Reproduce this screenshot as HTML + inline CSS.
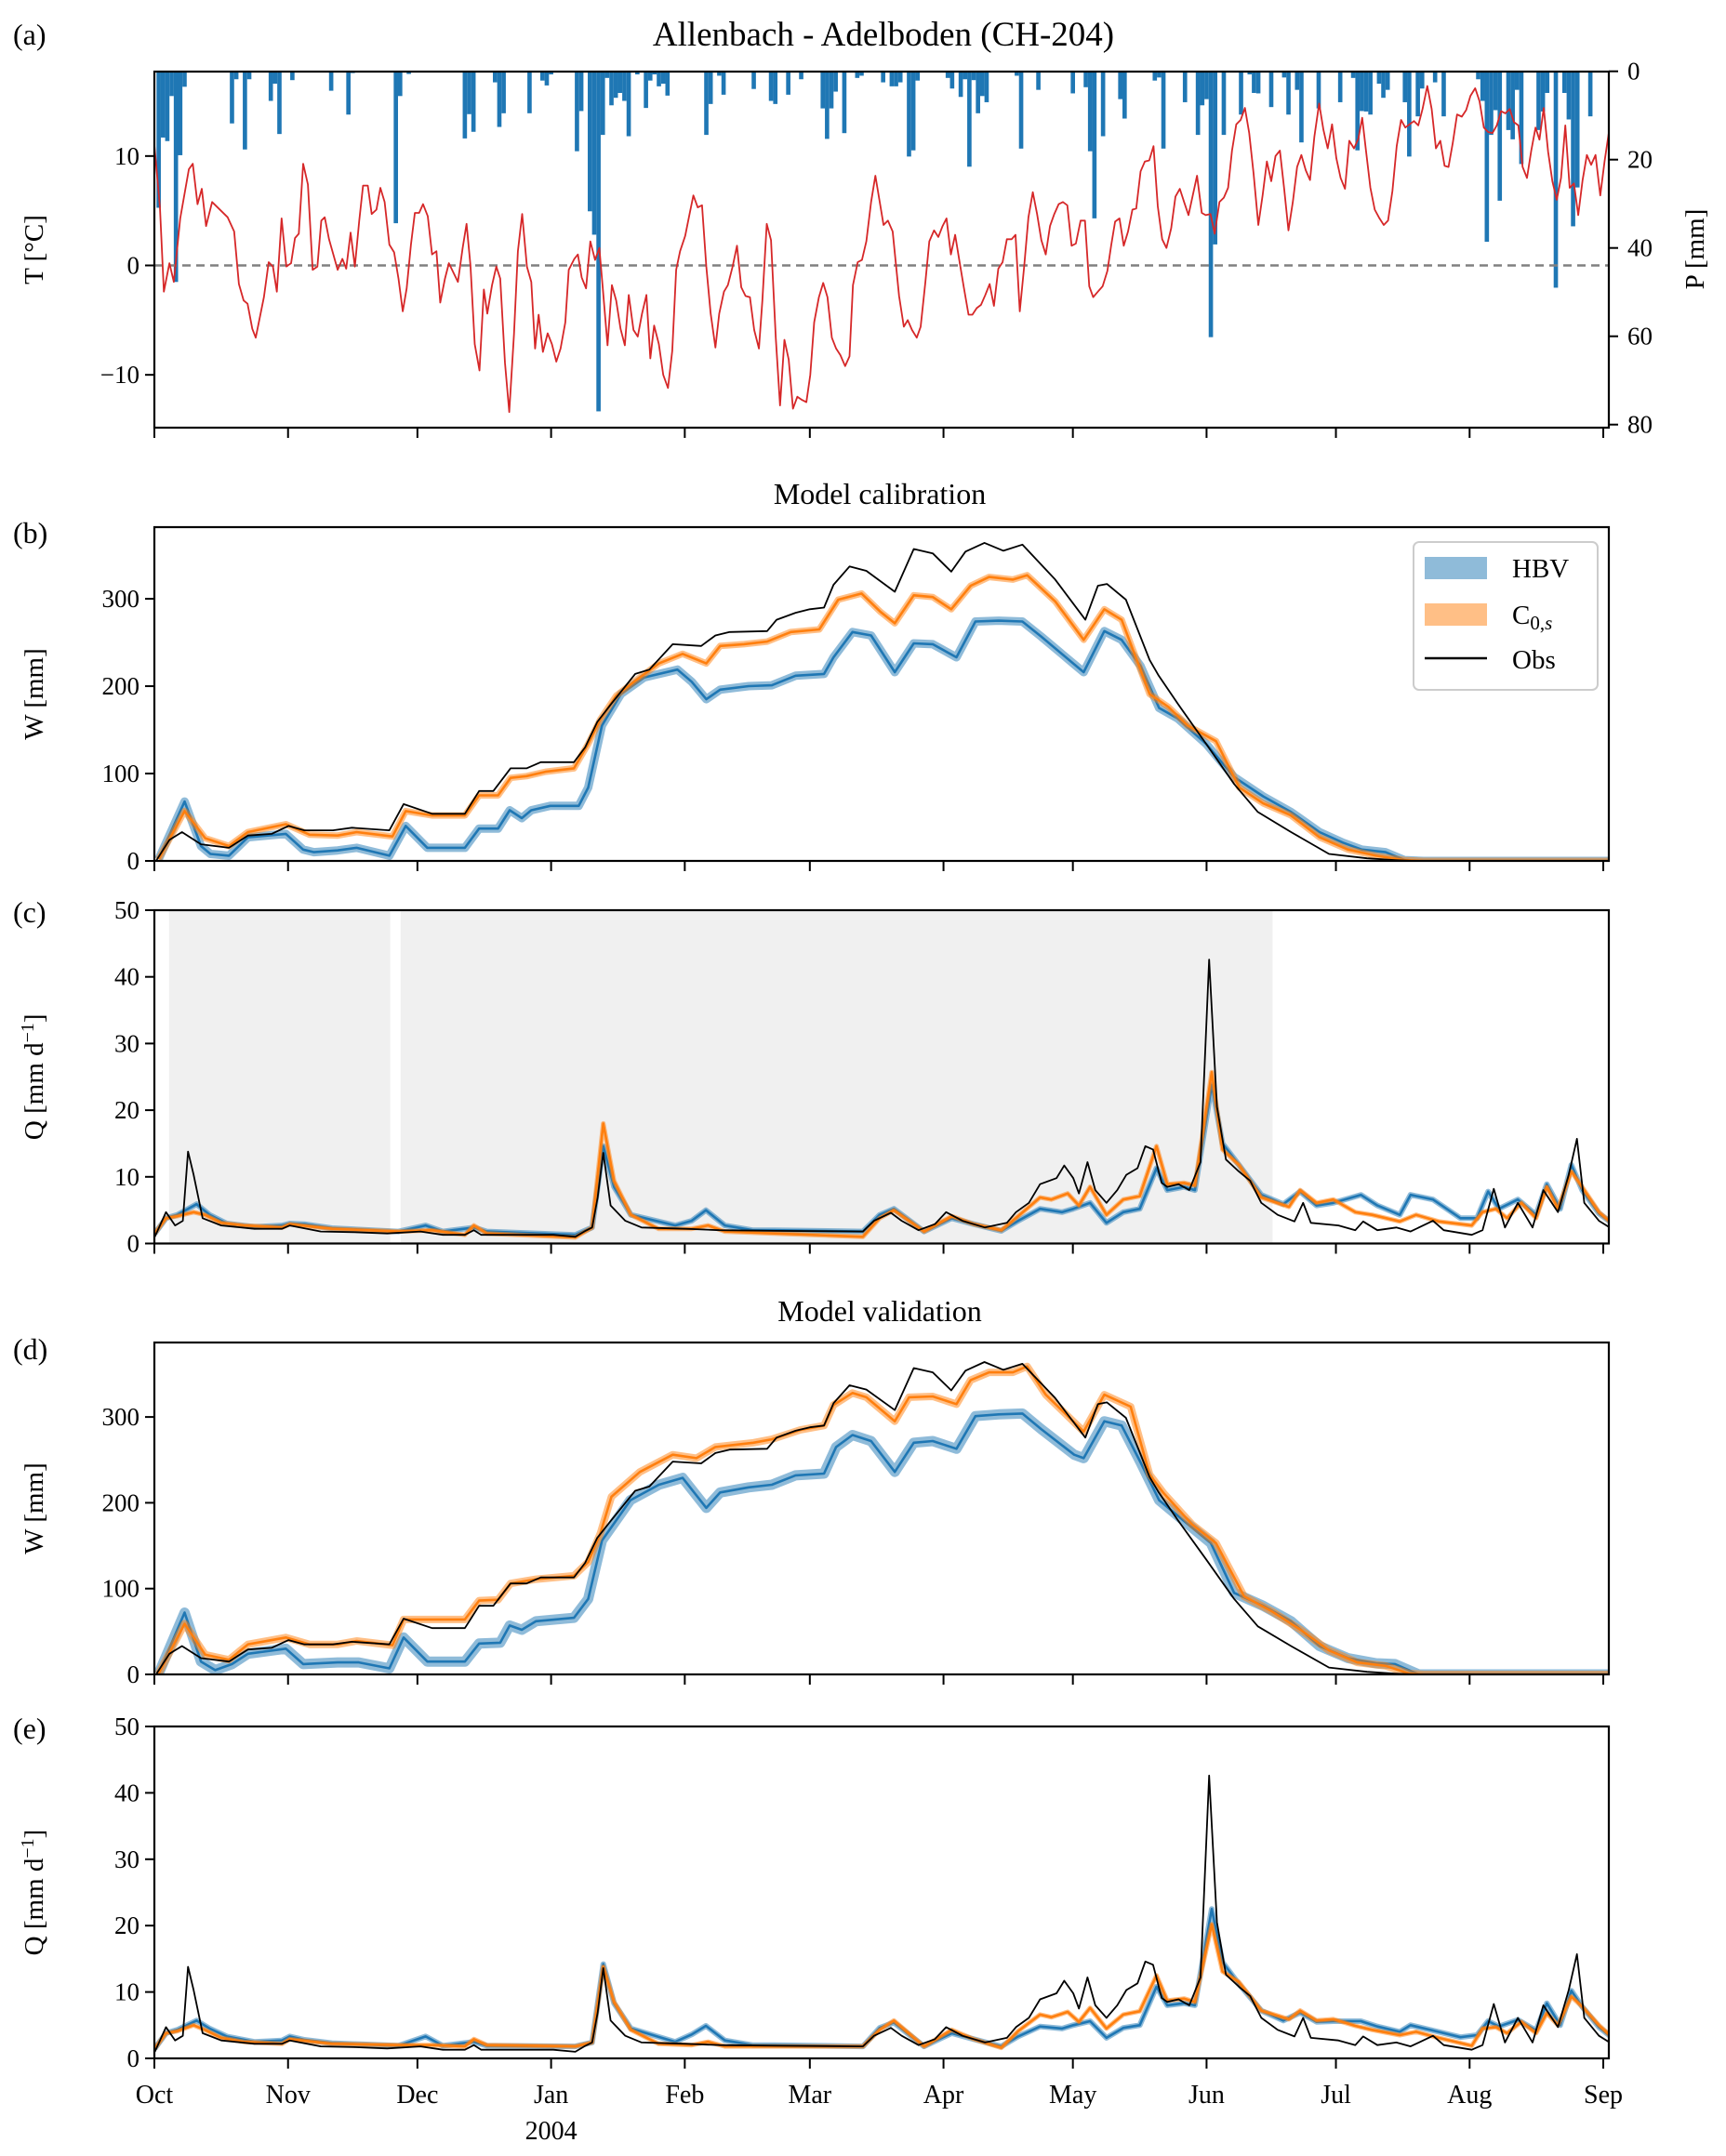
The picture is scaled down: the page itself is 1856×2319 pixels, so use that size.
<!DOCTYPE html>
<html><head><meta charset="utf-8">
<style>
html,body{margin:0;padding:0;background:#fff;}
svg{display:block;font-family:"Liberation Serif",serif;}
</style></head>
<body>
<svg id="chart" width="1856" height="2319" viewBox="0 0 1856 2319" xmlns="http://www.w3.org/2000/svg">
<rect x="0" y="0" width="1856" height="2319" fill="#fff"/>
<text x="950" y="49" font-size="37" text-anchor="middle">Allenbach - Adelboden (CH-204)</text>
<text x="946" y="542" font-size="32" text-anchor="middle">Model calibration</text>
<text x="946" y="1421" font-size="32" text-anchor="middle">Model validation</text>
<text x="14" y="48" font-size="32">(a)</text>
<text x="14" y="584" font-size="32">(b)</text>
<text x="14" y="992" font-size="32">(c)</text>
<text x="14" y="1462" font-size="32">(d)</text>
<text x="14" y="1870" font-size="32">(e)</text>
<g id="plots"></g>
</svg>
<script>
// ---------- data ----------
const monthLabels = ["Oct","Nov","Dec","Jan","Feb","Mar","Apr","May","Jun","Jul","Aug","Sep"];
const monthDays = [0,31,61,92,123,152,183,213,244,274,305,336];
const tTicks = [-10,0,10];
const pTicks = [0,20,40,60,80];
const wTicks = [0,100,200,300];
const qTicks = [0,10,20,30,40,50];

const tempDays = [0,1.3,2.2,3.5,4.5,6,8,8.9,10,11,12,13.4,17,18.5,19.6,20.7,21.6,22.7,23.5,25.4,26.5,27.5,28.4,29.5,30.6,31.7,32.6,33.5,34.5,35.6,36.7,37.8,38.7,39.5,40.5,42.5,43.6,44.5,45.5,46.5,47.5,48.4,49.5,50.4,51.5,52.4,53.4,54.5,55.6,56.6,57.6,58.5,59.5,60.4,61.4,62.3,63.4,64.4,65.4,66.3,67.4,68.3,70.4,71.5,72.4,73.3,74.3,75.4,76.4,77.2,78.3,79.3,80.2,81.3,82.3,83.4,84.3,85.3,86.4,87.4,88.3,89.1,90.1,91.2,92.2,93.2,94.2,95.3,96.1,97.4,98.2,99.1,100.1,101.1,102.2,103.2,104,105.1,106.1,107.1,108.1,109.1,110,111.1,112.1,113.1,114.1,115,115.9,117,118,119.1,120.1,121,121.9,123.1,124.1,125,126,127,128,129,130.1,131,132.1,133,134.1,135.1,136.1,137.1,138.1,139.1,140.2,141,142,143,144.1,145.1,146.1,147.1,148.1,149.1,150.2,151.2,152.1,153,154.1,155.1,156.1,157.1,158.1,159.1,160.2,161.2,162,163.1,164.1,165.1,166.2,167.2,168.3,169.1,170.1,171.2,172.7,173.8,174.7,175.7,176.8,177.7,178.8,179.7,180.8,181.8,182.8,183.7,184.7,185.7,186.6,187.7,188.8,189.7,190.7,191.7,192.7,193.7,194.7,195.7,196.7,197.7,198.8,199.7,200.7,201.7,202.7,203.7,204.7,205.7,206.7,207.7,208.7,209.7,210.7,211.7,212.7,213.7,214.8,215.8,216.8,217.7,218.8,219.9,221,221.9,222.8,223.8,224.8,225.8,226.8,227.7,228.7,229.7,230.7,231.7,232.7,233.7,234.7,235.8,236.8,237.8,238.8,239.8,240.8,241.8,242.9,243.8,244.9,245.9,247,248,249,249.9,250.9,251.9,252.9,253.9,254.9,256,257,258,259,260,261,262,263,264,265,266,267,268,269,270.1,271.1,272.1,273.1,274.1,275.1,276.1,277.1,278.2,279.2,280.1,281,282,283,284.1,285.1,286.1,287.1,288.1,289.1,290.1,291.1,292.1,293.1,294.1,295.2,296.2,297.2,298.2,299.2,300.1,301.1,302.1,303.2,304.2,305.2,306.3,307.3,308.3,309.3,310.3,311.3,312.3,313.3,314.3,315.3,316.3,317.3,318.3,319.3,320.3,321.2,322.2,323.2,324.2,325.2,326.2,327.2,328.2,329.2,330.2,331.2,332.2,333.2,334.2,335.3,336.3,337.3];
const tempVals = [11,5.3,-2.4,0.2,-1.5,4.3,8.8,9.3,5.6,7,3.6,5.8,4.4,3.1,-1.7,-3.2,-3.5,-5.8,-6.6,-2.9,0.3,-0.1,-2.4,4.3,-0.1,0.2,2.5,2.9,9.3,7.4,-0.4,-0.1,4.1,4.4,2.4,-0.4,0.6,-0.3,3.0,-0.1,4.1,7.3,7.3,4.7,5.1,7.1,5.8,1.9,1.2,-1.2,-4.2,-2.1,1.9,4.8,4.8,5.6,4.5,1.0,1.3,-3.4,-1.2,0.2,-1.5,1.6,3.8,0,-7.2,-9.6,-2.2,-4.4,-1.8,-0.1,-1.2,-8.9,-13.4,-6.3,1.3,4.7,-0.1,-1.5,-7.6,-4.5,-7.9,-6.2,-7.2,-8.8,-7.6,-5.2,-0.4,0.6,1.0,-1.1,-2.1,2.2,0.5,1.6,-2.1,-7.3,-1.8,-3.2,-5.8,-7.3,-2.7,-5.9,-6.5,-4.4,-2.7,-8.5,-5.5,-7.2,-10,-11.2,-7.8,-0.4,1.3,2.7,4.7,6.4,5.3,5.5,-0.1,-4.4,-7.5,-4.4,-2.4,-1.8,-0.1,1.8,-2.0,-2.8,-2.9,-5.9,-7.6,-3.2,3.8,2.3,-6.6,-12.8,-6.8,-8.6,-13.1,-12.0,-12.3,-12.5,-10,-5.2,-2.9,-1.6,-2.9,-6.6,-7.6,-8.2,-9.2,-8.3,-1.8,0.3,0.5,2.2,5.8,8.2,5.6,3.7,4.1,3.1,-2.8,-5.6,-5.0,-5.9,-6.6,-5.6,-1.5,2.2,3.2,2.6,3.6,4.3,1.0,2.8,0.6,-2.0,-4.5,-4.5,-3.9,-3.6,-2.7,-1.7,-3.7,-0.3,0.3,2.4,2.4,2.8,-4.2,-0.1,4.4,6.7,4.7,2.3,1.0,3.6,4.7,5.6,5.8,5.5,1.8,2.0,4.1,4.1,-1.9,-2.9,-2.4,-1.9,-0.5,1.9,4.0,4.3,1.8,3.1,5.1,5.2,8.6,9.5,9.6,10.9,5.4,2.4,1.6,3.4,6.3,7.0,5.8,4.6,6.4,8.2,4.8,4.6,4.7,2.9,5.8,6.2,7.1,10.5,12.9,13.3,14.4,12.1,8.4,3.7,6.4,9.5,7.7,10.0,10.5,7.0,3.2,5.8,9.0,10.1,8.7,7.8,11.8,14.8,12.4,10.7,12.9,9.8,8.0,7.0,11.4,10.7,11.6,13.5,10.4,7.1,5.1,4.3,3.7,4.1,6.8,10.9,13.3,12.6,12.9,13.2,12.8,14.3,16.4,14.3,10.7,11.4,9.1,9.0,11.2,13.8,13.6,14.2,15.5,16.2,15.0,12.6,12.2,12.1,12.8,14.1,13.9,14.3,13.1,12.8,9.0,8.0,10.5,12.6,11.5,14.4,10.4,7.7,6.0,8.0,12.8,7.1,7.5,4.6,7.8,10.1,9.2,10.1,6.4,9.5,12.2];

const precipDays = [1,2,3,4,5,6,7,18,19,21,22,27,28,29,32,41,45,46,56,57,59,72,73,74,79,80,81,87,90,91,92,98,99,101,102,103,104,105,106,107,108,109,110,112,114,115,116,117,118,119,128,129,131,132,139,143,144,147,150,155,156,157,158,160,163,164,169,171,172,173,175,176,177,184,185,187,188,189,190,191,192,193,200,201,205,213,216,217,218,220,224,225,232,233,234,239,242,243,244,245,246,248,252,254,255,256,259,262,263,265,266,270,275,278,279,280,281,282,284,285,286,290,291,293,294,297,299,307,308,309,310,311,312,314,315,316,317,321,322,323,325,327,328,329,330,333];
const precipVals = [30.9,15,15.8,5.6,47.7,19,3.5,11.8,1.8,17.7,1.8,6.7,2.8,14.2,2,4.4,9.8,0.4,34.4,5.6,0.6,15.2,9.7,13.7,2.5,12.6,9.5,9.5,2.1,3.2,0.7,18.1,9,31.7,37,77,14.4,1.5,7.7,6,4.9,6.7,14.7,0.7,8.3,2.1,0.7,3.4,2.8,5.5,14.4,7.4,1,5.3,4,6.7,7.4,5.3,1.8,8.4,15.3,8.4,4.6,14,1.5,1,2.5,3.4,3.4,2.5,19.3,17.9,2.1,1.5,3.9,5.8,1.8,21.6,2,9.5,5.6,7,1,17.5,4.2,5,3.6,18.1,33.3,14.7,6.3,10.7,2.1,1.4,17.5,7,14.4,7.7,6.3,60.2,39.2,14.4,9.8,0.7,4.9,5,8.1,1.4,9.8,4.2,16.1,8.4,7,1.5,17.9,9,9.1,9.8,2.8,6,4.2,7,19.3,10.2,3.9,2.5,10.2,1.8,6.7,38.6,14.4,8.8,29.3,13.3,15.4,4.2,21,13.3,9.1,4.9,49,4.9,10.9,35.1,26.3,10.2,6.5];

const obsWDays = [0.5,3.5,6.4,10.8,17.3,21.7,27.2,31.1,34.8,41.4,45.8,54.5,57.8,64.4,72,75.3,78.6,82.6,86.3,89.6,97.3,99.9,102.7,106,111.5,114.8,120.2,126.8,130.1,133.4,142.1,144.3,148.7,152,155.3,157.5,161.2,165.1,171.7,176.1,180.5,184.8,188.1,192.5,196.9,201.3,208.9,215.9,218.8,220.9,225.3,230.8,232.9,237.3,243.9,250.4,255.9,263.6,272.4,281.2,287.7,292.2,337.5];
const obsWVals = [0.9,24,33,19,15,29,31,40,35,35,38,35,65,54,54,80,80,106,106,113,113,130,159,180,214,219,248,246,258,262,263,276,284,288,290,316,337,332,308,357,352,331,354,364,355,362,322,276,315,317,299,230,212,180,134,88,56,33,8,3,1,0,0];

const calOrangeDays = [1,7,11.8,17.3,21.7,30.5,36,42.5,46.9,55.2,58.3,64.4,72,75.3,79.7,82.6,86.3,90.7,97.3,100.6,103.4,107.1,111.5,117,122.5,128,131.2,136.7,142.1,147.6,154.2,158.6,164,168.4,171.7,176.1,180.5,184.8,189.3,193.6,199.1,202.4,208.9,215.5,220.3,224.3,230.8,235.2,239.6,246.2,251.6,257.1,263.6,270.2,276.8,283.3,289.9,294.3,337.5];
const calOrangeVals = [2,57,26,17,33,42,30,29,33,28,57,52,52,75,75,95,97,102,106,134,162,189,206,226,237,226,246,248,251,262,265,299,306,285,272,304,302,288,315,325,322,327,297,253,288,276,191,176,155,137,84,66,52,27,13,6,1,0,0];
const calBlueDays = [1,7,10.8,13,17.3,21.7,30.5,34.5,37,42.5,46.9,54.5,58.3,63.3,72,75.3,79.7,82.4,85.2,87.4,91.8,98.4,100.6,103.8,108.2,113.6,121.3,124.6,128,131.2,137.8,143.2,148.7,155.3,157.5,161.9,166.2,171.7,176.1,180.5,186,190.4,195.8,201.3,205.6,213.3,215.5,220.3,224.3,228.7,233,237.3,243.9,250.4,257.1,263.6,270.2,275.6,280,285.5,289.9,294.3,337.5];
const calBlueVals = [2,68,17,8,6,27,31,13,10,12,15,6,40,15,15,37,37,58,49,58,63,63,84,155,191,210,219,205,185,196,200,201,212,214,233,262,258,216,249,248,233,274,275,274,257,225,216,263,253,223,175,163,134,96,74,56,33,21,13,10,1,0,0];

const valOrangeDays = [1,7,11.8,17.3,21.7,30.5,36,42.5,46.9,55.2,57.8,72,75.3,79.7,82.6,88.5,97.3,100.6,103.4,106,112.6,120.2,125.7,130.1,138.9,143.2,149.8,155.3,157.5,161.9,165.1,171.7,175,180.5,186,189.3,193.6,199.1,202.4,206.7,215.5,220.3,226.4,230.8,234.1,240.6,246.2,252.7,259.3,265.8,272.4,278.9,285.5,291,294.3,337.5];
const valOrangeVals = [1,59,23,17,35,43,35,35,39,34,64,64,86,87,106,111,115,131,164,207,236,256,252,265,270,274,285,290,314,328,323,295,323,324,315,343,352,352,359,326,283,326,312,233,211,175,153,91,73,52,28,14,10,1,0,0];
const valBlueDays = [1,7,10.8,14.1,18,21.7,30.5,34.5,42.5,47.4,54.5,57.8,63.3,72,75.3,80.2,82.4,85.2,88.5,97.3,100.6,103.8,110.4,117,122.5,128,131.2,137.8,143.2,148.7,155.3,158.1,161.9,166.2,171.7,176.1,180.5,186,190.4,195.8,201.3,205.6,213.3,215.5,220.3,224.3,228.7,233,237.3,245,250.4,257.1,263.6,270.2,276.8,283.3,287.7,293.2,337.5];
const valBlueVals = [1,72,15,5,12,24,30,12,14,14,7,43,15,15,36,37,57,52,62,66,88,156,203,221,229,194,212,218,221,232,234,265,279,272,236,270,272,263,301,303,304,286,256,252,295,290,247,203,185,153,95,80,62,33,19,13,12,0,0];

const obsQDays = [0.1,2.7,4.8,6.6,7.8,9.1,11.2,15.5,23.2,29.6,31.4,38.6,46.3,54,61.7,66.9,72,74.1,75.8,92.5,97.6,99.7,101.5,102.8,104.1,105.8,109.2,113,123.3,131,143.8,164.3,166.9,170.8,173.3,177.2,181,183.6,187.4,192.6,197.7,199.8,202.8,205.4,209.2,211,213.1,214.4,216.4,218.2,220.8,223.3,225.4,228,229.8,231.6,233.6,234.9,237.5,240,242.6,244.6,246.4,248.5,251.5,254.1,256.7,260.5,264.4,266.4,268.2,274.6,278.5,280.3,283.6,288,291.3,296.5,299,305.5,308,310.6,313.2,316.2,319.6,322.1,325.5,328,329.9,331.6,335,337.5];
const obsQVals = [1.0,4.7,2.7,3.4,13.8,10.3,3.8,2.7,2.2,2.2,2.7,1.8,1.7,1.5,1.8,1.3,1.3,2.0,1.3,1.3,1.0,1.8,2.4,6.9,13.6,5.7,3.4,2.4,2.2,2.0,1.9,1.8,3.4,4.6,3.4,2.0,2.9,4.7,3.4,2.4,3.1,4.7,6.1,8.9,9.8,11.7,9.8,7.5,12.2,8,6.1,8,10.3,11.3,14.6,14.1,9.1,8.5,8.9,8.0,12.2,42.6,20.5,12.6,10.8,9.4,6.1,4.3,3.3,6.1,3.1,2.7,2.0,3.3,2.0,2.4,1.8,3.4,2.0,1.3,2.0,8.2,2.4,6.1,2.4,8.0,4.7,10.3,15.7,6.1,3.4,2.4];

const calOrangeQDays = [0.1,2.7,5.3,9.1,11.7,15.5,20.7,29.6,31.4,41.2,56.6,64.3,72,74.1,77.1,97.6,101.5,104.1,106.6,110.5,116.9,124.6,128.4,132.3,143.8,164.3,168.2,171.5,178.5,184.9,190,196.4,200.3,205.4,208,211.8,214.4,217,220.8,224.7,228.5,232.4,234.9,238.8,241.3,245.2,247.7,251.5,256.7,263.1,265.7,269.5,273.4,278.5,282.4,288.8,292.6,297.8,305.5,308,311.1,313.7,317,320.4,322.9,325.5,328.6,331.1,335,337.5];
const calOrangeQVals = [1.5,3.8,4.1,4.7,4.3,3.1,2.7,2.4,2.9,2.2,1.8,2.0,1.3,2.7,1.5,0.9,2.4,18.0,9.4,4.3,2.2,2.2,2.7,1.8,1.5,1.0,3.8,5.0,1.8,4.1,2.9,2.0,4.1,6.9,6.6,7.5,5.7,8.5,4.3,6.6,7.1,14.6,8.9,9.1,8.7,25.7,14.1,11.8,6.9,5.5,8,6.1,6.6,4.7,4.3,3.3,4.3,3.3,2.7,4.7,5.2,3.8,6.1,3.8,8.5,5.2,10.8,8.5,4.7,3.3];
const calBlueQDays = [0.1,2.7,5.3,9.8,12.8,16.8,23.2,29.6,31.4,34.8,41.2,56.6,62.9,66.9,74.1,77.1,97.6,101.5,104.1,106.6,110.5,120.8,124.6,127.9,132.3,138.7,143.8,164.3,168.2,171.5,178.5,184.9,190,196.4,200.3,205.4,210.5,213.1,217,220.8,224.7,228.5,232.4,234.9,238.8,241.3,245.2,247.7,251.5,256.7,261.8,265.7,269.5,273.4,279.8,283.6,288.8,291.3,296.5,302.9,306.7,309.3,311.8,316.2,320.4,322.9,326,328.6,331.1,335,337.5];
const calBlueQVals = [1.5,3.8,4.3,5.9,4.3,3.0,2.5,2.7,3.0,2.9,2.3,1.8,2.7,1.8,2.4,1.8,1.3,2.4,14.6,8.5,4.3,2.7,3.4,5.0,2.7,2.0,2.0,1.8,4.3,5.2,1.8,3.8,2.9,1.9,3.4,5.2,4.7,5.2,6.1,3.1,4.7,5.2,11.3,8.0,8.5,8.0,23.8,15.0,11.8,7.3,5.9,7.8,5.7,6.1,7.3,5.7,4.3,7.3,6.6,3.8,3.8,7.8,5.2,6.6,4.3,8.9,5.2,11.8,8.0,4.5,3.3];

const valOrangeQDays = [0.1,2.7,5.3,9.1,11.7,15.5,20.7,29.6,31.4,41.2,56.6,64.3,72,74.1,77.1,97.6,101.5,104.1,106.6,110.5,116.9,124.6,128.4,132.3,143.8,164.3,168.2,171.5,178.5,184.9,190,196.4,200.3,205.4,208,211.8,214.4,217,220.8,224.7,228.5,232.4,234.9,238.8,241.3,245.2,247.7,251.5,256.7,263.1,265.7,269.5,273.4,278.5,282.4,288.8,292.6,297.8,305.5,308,311.1,313.7,317,320.4,322.9,325.5,328.6,331.1,335,337.5];
const valOrangeQVals = [1.5,3.8,4.1,5.0,4.3,3.1,2.5,2.2,2.9,2.2,2.0,2.0,1.8,2.9,2.0,1.8,2.4,13.8,8.5,4.3,2.2,2.0,2.5,1.8,1.8,1.8,4.3,5.7,1.8,4.3,2.9,1.6,4.1,6.6,6.2,7.0,5.5,7.6,4.5,6.6,7.1,12.5,8.7,9.0,8.5,20.2,13.1,11.5,7.2,5.9,7.2,5.7,5.9,4.9,4.3,3.5,4.0,3.1,1.9,4.5,4.7,3.8,5.5,3.8,6.8,5.0,9.3,7.8,5.0,3.5];
const valBlueQDays = [0.1,2.7,5.3,9.8,12.8,16.8,23.2,29.6,31.4,34.8,41.2,56.6,62.9,66.9,74.1,77.1,97.6,101.5,104.1,106.6,110.5,120.8,124.6,127.9,132.3,138.7,143.8,164.3,168.2,171.5,178.5,184.9,190,196.4,200.3,205.4,210.5,213.1,217,220.8,224.7,228.5,232.4,234.9,238.8,241.3,245.2,247.7,251.5,256.7,261.8,265.7,269.5,273.4,279.8,283.6,288.8,291.3,296.5,302.9,306.7,309.3,311.8,316.2,320.4,322.9,326,328.6,331.1,335,337.5];
const valBlueQVals = [1.5,3.8,4.3,5.7,4.5,3.3,2.5,2.7,3.3,2.8,2.3,1.9,3.3,1.9,2.5,1.9,1.8,2.4,14.2,8.3,4.5,2.5,3.6,4.9,2.7,2.0,2.0,1.8,4.6,5.4,1.8,3.8,2.9,1.8,3.3,4.8,4.5,5.0,5.6,3.1,4.6,5.0,10.8,8.0,8.3,8.0,22.5,14.5,11.2,7.2,5.7,6.9,5.5,5.6,5.6,4.8,4.0,5.0,4.2,3.2,3.5,5.6,4.8,5.8,4.2,8.3,5.0,10.2,7.8,4.7,3.4];

const calibWindowStart = [3.4,57.1];
const calibWindowEnd = [54.7,259.3];

// ---------- layout ----------
const X0 = 166, X1 = 1730, PX_PER_DAY = 4.637;
const xOf = d => X0 + d * PX_PER_DAY;
const NS = "http://www.w3.org/2000/svg";
const root = document.getElementById('plots');
function el(tag, attrs, parent){
  const e = document.createElementNS(NS, tag);
  for (const k in attrs) e.setAttribute(k, attrs[k]);
  (parent||root).appendChild(e);
  return e;
}
const panels = {
  a:{top:77,bottom:460,min:-14.83,max:17.72},
  b:{top:567,bottom:926,min:0,max:382},
  c:{top:979,bottom:1337.5,min:0,max:50},
  d:{top:1444,bottom:1801,min:0,max:386.8},
  e:{top:1857,bottom:2214,min:0,max:50}
};
function yScale(p){ return v => p.bottom - (v - p.min) / (p.max - p.min) * (p.bottom - p.top); }
const pScale = v => 76.7 + v * 4.75;

function pathD(days, vals, ys){
  let s = "";
  for (let i=0;i<days.length;i++) s += (i?"L":"M") + xOf(days[i]).toFixed(1) + "," + ys(vals[i]).toFixed(1);
  return s;
}
function clipFor(key, p){
  const cp = el('clipPath',{id:'clip-'+key});
  el('rect',{x:X0,y:p.top,width:X1-X0,height:p.bottom-p.top},cp);
}
function frame(key, p, yticks, ys, label){
  const g = el('g',{});
  
  
  el('rect',{x:X0,y:p.top,width:X1-X0,height:p.bottom-p.top,fill:'none',stroke:'#000','stroke-width':2.2},g);
  for (const t of yticks){
    const y = ys(t);
    el('line',{x1:X0-10,x2:X0,y1:y,y2:y,stroke:'#000','stroke-width':2},g);
    const tx = el('text',{x:X0-16,y:y+9,'font-size':27,'text-anchor':'end'},g);
    tx.textContent = t < 0 ? '\u2212' + Math.abs(t) : String(t);
    
    
  }
  for (const d of monthDays){
    const x = xOf(d);
    el('line',{x1:x,x2:x,y1:p.bottom,y2:p.bottom+11,stroke:'#000','stroke-width':2},g);
  }
  const cy = (p.top+p.bottom)/2;
  const yl = el('text',{x:0,y:0,'font-size':29,'text-anchor':'middle',transform:`translate(46,${cy}) rotate(-90)`},g);
  yl.innerHTML = label;
  
  
}
function series(key, days, vals, ys, color, band, name){
  const g = el('g',{'clip-path':'url(#clip-'+key+')'});
  
  
  const d = pathD(days, vals, ys);
  if (band) el('path',{d:d,fill:'none',stroke:color,'stroke-opacity':0.5,'stroke-width':band,'stroke-linejoin':'round'},g);
  el('path',{d:d,fill:'none',stroke:color,'stroke-width':band?2.6:1.8,'stroke-linejoin':'round'},g);
}
const BLUE='#1f77b4', ORANGE='#ff7f0e';

// ---- panel a ----
(function(){
  const p = panels.a, ys = yScale(p);
  clipFor('a', p);
  const bars = el('g',{'clip-path':'url(#clip-a)'});
  
  
  for (let i=0;i<precipDays.length;i++){
    const r = el('rect',{x:xOf(precipDays[i])-PX_PER_DAY/2,y:p.top,width:PX_PER_DAY,height:pScale(precipVals[i])-p.top,fill:BLUE},bars);
    
    
  }
  const zl = el('line',{x1:X0,x2:X1,y1:ys(0),y2:ys(0),stroke:'#808080','stroke-width':2.5,'stroke-dasharray':'9,6'});
  
  
  series('a', tempDays, tempVals, ys, '#d62728', 0, 'temperature-line');
  frame('a', p, tTicks, ys, 'T [°C]');
  for (const t of pTicks){
    const y = pScale(t);
    el('line',{x1:X1,x2:X1+10,y1:y,y2:y,stroke:'#000','stroke-width':2});
    const tx = el('text',{x:X1+20,y:y+9,'font-size':27});
    tx.textContent = String(t);
    
    
  }
  const pl = el('text',{x:0,y:0,'font-size':29,'text-anchor':'middle',transform:'translate(1832,268) rotate(-90)'});
  pl.textContent = 'P [mm]';
  
  
})();

// ---- panel b ----
(function(){
  const p = panels.b, ys = yScale(p);
  clipFor('b', p);
  series('b', calBlueDays, calBlueVals, ys, BLUE, 9, 'hbv-swe-calibration');
  series('b', calOrangeDays, calOrangeVals, ys, ORANGE, 7, 'c0s-swe-calibration');
  series('b', obsWDays, obsWVals, ys, '#000', 0, 'observed-swe-calibration');
  frame('b', p, wTicks, ys, 'W [mm]');
  const lg = el('g',{});
  
  
  el('rect',{x:1520,y:583,width:198,height:159,rx:6,fill:'#fff',stroke:'#ccc','stroke-width':2},lg);
  el('rect',{x:1532,y:599,width:67,height:24,fill:BLUE,'fill-opacity':0.5},lg);
  el('rect',{x:1532,y:649,width:67,height:24,fill:ORANGE,'fill-opacity':0.5},lg);
  el('line',{x1:1532,x2:1599,y1:708,y2:708,stroke:'#000','stroke-width':2.5},lg);
  const t1 = el('text',{x:1626,y:621,'font-size':29},lg); t1.textContent='HBV';
   
  const t2 = el('text',{x:1626,y:671,'font-size':29},lg); t2.innerHTML='C<tspan font-size="21" dy="6">0,<tspan font-style="italic">s</tspan></tspan>';
   
  const t3 = el('text',{x:1626,y:719,'font-size':29},lg); t3.textContent='Obs';
   
})();

// ---- panel c ----
(function(){
  const p = panels.c, ys = yScale(p);
  clipFor('c', p);
  for (let i=0;i<calibWindowStart.length;i++){
    const r = el('rect',{x:xOf(calibWindowStart[i]),y:p.top,width:xOf(calibWindowEnd[i])-xOf(calibWindowStart[i]),height:p.bottom-p.top,fill:'#f0f0f0'});
    
    
  }
  series('c', calBlueQDays, calBlueQVals, ys, BLUE, 6, 'hbv-discharge-calibration');
  series('c', calOrangeQDays, calOrangeQVals, ys, ORANGE, 5, 'c0s-discharge-calibration');
  series('c', obsQDays, obsQVals, ys, '#000', 0, 'observed-discharge-calibration');
  frame('c', p, qTicks, ys, 'Q [mm d<tspan font-size="20" dy="-10">\u22121</tspan><tspan dy="10">]</tspan>');
})();

// ---- panel d ----
(function(){
  const p = panels.d, ys = yScale(p);
  clipFor('d', p);
  series('d', valBlueDays, valBlueVals, ys, BLUE, 11, 'hbv-swe-validation');
  series('d', valOrangeDays, valOrangeVals, ys, ORANGE, 8, 'c0s-swe-validation');
  series('d', obsWDays, obsWVals, ys, '#000', 0, 'observed-swe-validation');
  frame('d', p, wTicks, ys, 'W [mm]');
})();

// ---- panel e ----
(function(){
  const p = panels.e, ys = yScale(p);
  clipFor('e', p);
  series('e', valBlueQDays, valBlueQVals, ys, BLUE, 6, 'hbv-discharge-validation');
  series('e', valOrangeQDays, valOrangeQVals, ys, ORANGE, 5, 'c0s-discharge-validation');
  series('e', obsQDays, obsQVals, ys, '#000', 0, 'observed-discharge-validation');
  frame('e', p, qTicks, ys, 'Q [mm d<tspan font-size="20" dy="-10">\u22121</tspan><tspan dy="10">]</tspan>');
  for (let i=0;i<monthDays.length;i++){
    const tx = el('text',{x:xOf(monthDays[i]),y:2262,'font-size':28,'text-anchor':'middle'});
    tx.textContent = monthLabels[i];
    
    
  }
  const yr = el('text',{x:xOf(92),y:2301,'font-size':28,'text-anchor':'middle'});
  yr.textContent = '2004';
  
  
})();
</script>
</body></html>
